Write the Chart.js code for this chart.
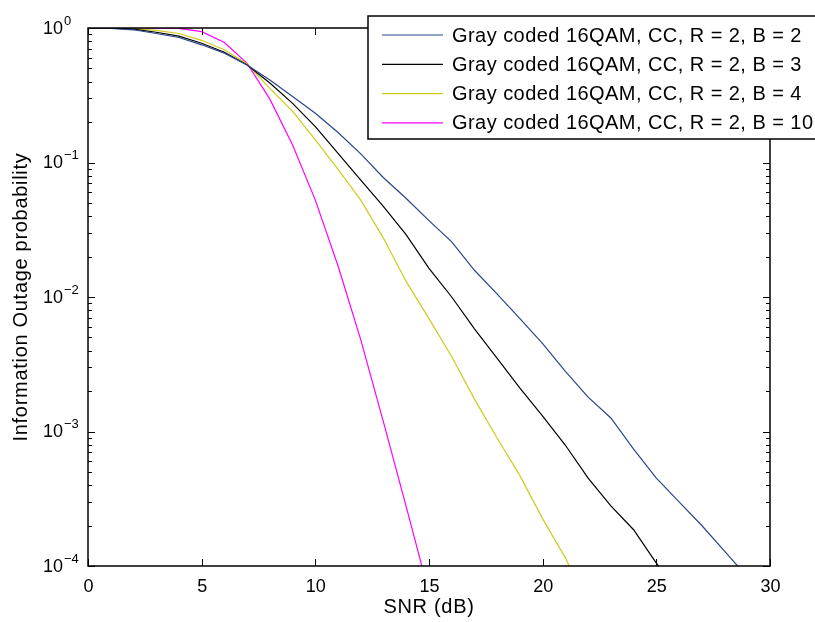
<!DOCTYPE html>
<html>
<head>
<meta charset="utf-8">
<script src="https://cdn.jsdelivr.net/npm/chart.js@4.4.1/dist/chart.umd.min.js"></script>
<style>
  html, body { margin: 0; padding: 0; background: #fff; }
  #wrap { width: 815px; height: 622px; }
</style>
</head>
<body>
<div id="wrap"><canvas id="myChart" width="815" height="622"></canvas></div>
<script>
  // SNR in dB, one point per dB
  const snr = [0,1,2,3,4,5,6,7,8,9,10,11,12,13,14,15,16,17,18,19,20,21,22,23,24,25,26,27,28,29,30];

  // outage probability
  const pB2 = [1, 0.995, 0.97, 0.91, 0.85, 0.75, 0.65, 0.53, 0.41, 0.31, 0.232, 0.167, 0.116, 0.077, 0.054,
               0.037, 0.0257, 0.0158, 0.0105, 0.0069, 0.0045, 0.0028, 0.0018, 0.00126, 0.00074, 0.00045,
               0.0003, 0.0002, 0.000129, 0.000083, 0.000055];
  const pB3 = [1, 0.998, 0.98, 0.93, 0.87, 0.77, 0.66, 0.53, 0.39, 0.275, 0.185, 0.117, 0.074, 0.047, 0.029,
               0.0163, 0.01, 0.0058, 0.0035, 0.0021, 0.0013, 0.00079, 0.00045, 0.00028, 0.000186, 0.000105,
               0.000063];
  const pB4 = [1, 0.999, 0.99, 0.96, 0.91, 0.81, 0.69, 0.54, 0.356, 0.24, 0.147, 0.089, 0.0525, 0.0273, 0.013,
               0.0069, 0.0036, 0.00174, 0.00089, 0.00047, 0.000224, 0.000115, 0.00005];
  const pB10 = [1, 1, 1, 0.999, 0.995, 0.94, 0.78, 0.546, 0.296, 0.135, 0.0525, 0.017, 0.0048, 0.00117,
                0.000275, 0.000063];

  const seriesLabels = [
    "Gray coded 16QAM, CC, R = 2, B = 2",
    "Gray coded 16QAM, CC, R = 2, B = 3",
    "Gray coded 16QAM, CC, R = 2, B = 4",
    "Gray coded 16QAM, CC, R = 2, B = 10"
  ];
  const seriesColors = ["#29458a", "#000000", "#cccc1a", "#ff00ff"];
  const seriesValues = [pB2, pB3, pB4, pB10];

  const xTicks = [0, 5, 10, 15, 20, 25, 30];
  const yExponents = [0, -1, -2, -3, -4];

  const FONT = "Liberation Sans, Arial, Helvetica, sans-serif";

  function toPoints(vals) {
    return vals.map((v, i) => ({ x: snr[i], y: v }));
  }

  const datasets = seriesValues.map((vals, i) => ({
    label: seriesLabels[i],
    data: toPoints(vals),
    borderColor: seriesColors[i],
    borderWidth: 1.2,
    pointRadius: 0,
    tension: 0,
    fill: false
  }));

  // MATLAB-like box, inward ticks, labels and legend
  const matlabAxes = {
    id: "matlabAxes",
    afterDraw(chart) {
      const ctx = chart.ctx;
      const a = chart.chartArea;
      const xs = chart.scales.x;
      const ys = chart.scales.y;
      ctx.save();
      ctx.strokeStyle = "#000";
      ctx.fillStyle = "#000";
      ctx.lineWidth = 1;

      // ticks on x (bottom and top)
      xTicks.forEach(t => {
        const px = Math.round(xs.getPixelForValue(t)) + 0.5;
        ctx.beginPath();
        ctx.moveTo(px, a.bottom); ctx.lineTo(px, a.bottom - 7);
        ctx.moveTo(px, a.top); ctx.lineTo(px, a.top + 7);
        ctx.stroke();
      });

      // major and minor ticks on y (left and right)
      yExponents.forEach(e => {
        for (let m = 1; m <= 9; m++) {
          const v = m * Math.pow(10, e);
          if (v > 1 || v < 1e-4) continue;
          const py = Math.round(ys.getPixelForValue(v)) + 0.5;
          const len = m === 1 ? 7 : 4;
          ctx.beginPath();
          ctx.moveTo(a.left, py); ctx.lineTo(a.left + len, py);
          ctx.moveTo(a.right, py); ctx.lineTo(a.right - len, py);
          ctx.stroke();
        }
      });

      // box
      ctx.lineWidth = 1.5;
      ctx.strokeRect(a.left, a.top, a.right - a.left, a.bottom - a.top);

      // x tick labels
      ctx.font = "18px " + FONT;
      ctx.textAlign = "center";
      ctx.textBaseline = "middle";
      xTicks.forEach(t => {
        ctx.fillText(String(t), xs.getPixelForValue(t) + 0.5, a.bottom + 21);
      });

      // y tick labels with superscript
      yExponents.forEach(e => {
        const py = ys.getPixelForValue(Math.pow(10, e));
        ctx.font = "18px " + FONT;
        ctx.textAlign = "right";
        ctx.fillText("10", 63, py + 1);
        ctx.font = "13px " + FONT;
        ctx.textAlign = "left";
        ctx.fillText(e === 0 ? "0" : "\u2212" + Math.abs(e), 64, py - 7);
      });

      // axis titles
      ctx.font = "20px " + FONT;
      ctx.letterSpacing = "0.7px";
      ctx.textAlign = "center";
      ctx.fillText("SNR (dB)", (a.left + a.right) / 2, 607);
      ctx.save();
      ctx.translate(21, (a.top + a.bottom) / 2);
      ctx.rotate(-Math.PI / 2);
      ctx.fillText("Information Outage probability", 0, 0);
      ctx.restore();

      // legend box
      ctx.fillStyle = "#fff";
      ctx.fillRect(368, 16, 460, 123);
      ctx.lineWidth = 1.5;
      ctx.strokeRect(368, 16, 460, 123);
      ctx.font = "20px " + FONT;
      ctx.letterSpacing = "0.45px";
      ctx.textAlign = "left";
      chart.data.datasets.forEach((ds, i) => {
        const ly = 35 + i * 29.3;
        ctx.strokeStyle = ds.borderColor;
        ctx.lineWidth = 1.2;
        ctx.beginPath();
        ctx.moveTo(382, ly); ctx.lineTo(443, ly);
        ctx.stroke();
        ctx.fillStyle = "#000";
        ctx.fillText(ds.label, 452, ly + 1);
      });
      ctx.restore();
    }
  };

  const ctx = document.getElementById("myChart").getContext("2d");
  const chart = new Chart(ctx, {
    type: "line",
    data: { datasets: datasets },
    options: {
      responsive: false,
      animation: false,
      layout: { padding: { top: 28, right: 45, left: 0, bottom: 0 } },
      plugins: { legend: { display: false }, tooltip: { enabled: false } },
      scales: {
        x: {
          type: "linear",
          min: 0, max: 30,
          ticks: { display: false },
          grid: { display: false },
          border: { display: false },
          afterFit: s => { s.height = 56; }
        },
        y: {
          type: "logarithmic",
          min: 1e-4, max: 1,
          ticks: { display: false },
          grid: { display: false },
          border: { display: false },
          afterFit: s => { s.width = 88; }
        }
      }
    },
    plugins: [matlabAxes]
  });
</script>
</body>
</html>
